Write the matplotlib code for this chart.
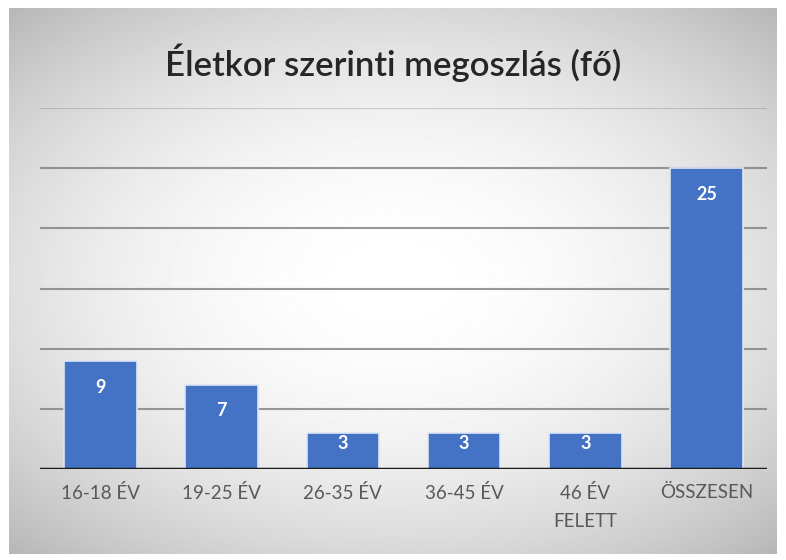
import matplotlib.pyplot as plt
import numpy as np

# Age distribution (persons)
categories = ['16-18 ÉV', '19-25 ÉV', '26-35 ÉV', '36-45 ÉV', '46 ÉV\nFELETT', 'ÖSSZESEN']
values = [9, 7, 3, 3, 3, 25]
grid_levels = [5, 10, 15, 20, 25, 30]

fig = plt.figure(figsize=(7.86, 5.6), dpi=100)
fig.patch.set_facecolor('white')

# ── radial gray background ──
bg = fig.add_axes([0.012, 0.01, 0.976, 0.975])
yy, xx = np.mgrid[-1:1:300j, -1:1:400j]
r = np.sqrt((xx / 1.15) ** 2 + (yy / 1.05) ** 2)
shade = 1.0 - 0.17 * np.clip(r, 0, 1.3) ** 2
bg.imshow(shade, cmap='gray', vmin=0, vmax=1, aspect='auto', extent=[0, 1, 0, 1])
bg.set_axis_off()

ax = fig.add_axes([40 / 786, 91 / 560, 727 / 786, 361 / 560])
ax.patch.set_alpha(0)
x = np.arange(len(categories))
bars = ax.bar(x, values, width=0.6, color='#4472C4', edgecolor='#dce6f5', linewidth=1.2, zorder=3)

for lvl in grid_levels:
    a = 0.35 if lvl == 30 else 0.8
    ax.axhline(lvl, color='#7f7f7f', lw=1.5, alpha=a, zorder=1)
ax.axhline(0, color='#1a1a1a', lw=2.5, zorder=4)

# inside-end labels, kept inside short bars
for b, v in zip(bars, values):
    ax.text(b.get_x() + b.get_width() / 2, max(v - 2.2, v * 0.7), str(v), ha='center', va='center',
            color='white', fontsize=13, fontweight='bold', family='Lato', zorder=5)

ax.set_xlim(-0.5, len(categories) - 0.5)
ax.set_ylim(0, 30)
ax.set_xticks(x)
ax.set_xticklabels(categories, fontsize=13.5, color='#595959', family='Lato', linespacing=1.75)
ax.tick_params(axis='x', length=0, pad=11)
ax.set_yticks([])
for s in ax.spines.values():
    s.set_visible(False)

fig.text(0.5, 0.888, 'Életkor szerinti megoszlás (fő)', ha='center', va='center',
         fontsize=25, color='#262626', family='Lato', fontweight='semibold')

plt.savefig('out.png', dpi=100)
